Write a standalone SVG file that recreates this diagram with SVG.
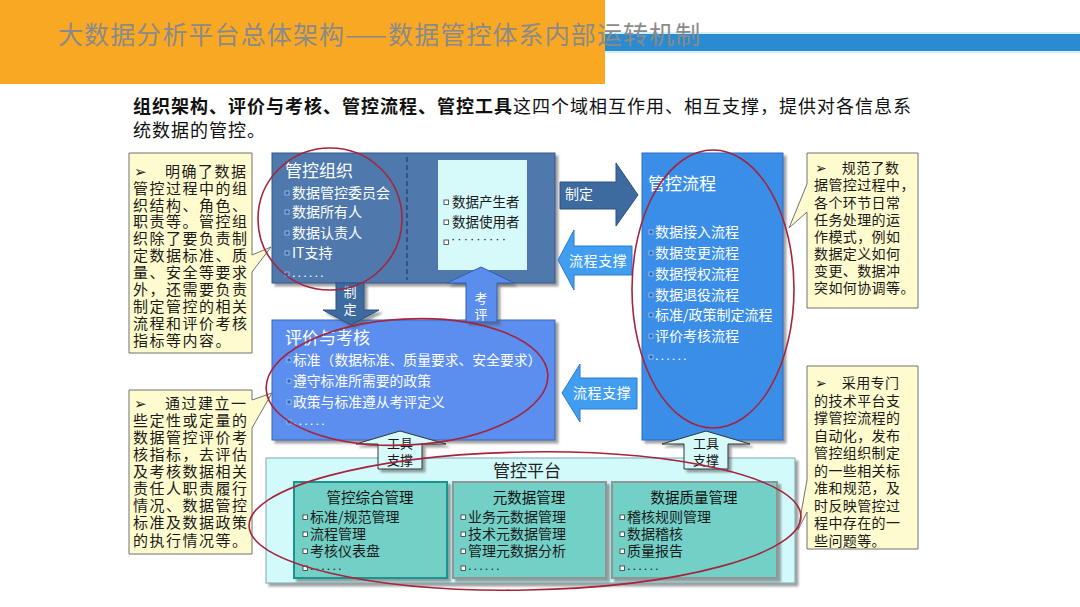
<svg xmlns="http://www.w3.org/2000/svg" width="1080" height="607" viewBox="0 0 1080 607">
<defs>
<style>
text{font-family:"Noto Sans CJK SC","Noto Sans",sans-serif;}
text.dots{font-family:"Liberation Sans",Arial,sans-serif;font-size:13px;letter-spacing:2px;}
.callout{fill:#FEFCCF;stroke:#707070;stroke-width:1;}
.cl{font-size:15px;fill:#1a1a1a;letter-spacing:1.5px;}
.cr{font-size:14px;fill:#1a1a1a;letter-spacing:0.4px;}
.wt{fill:#ffffff;}
.dk{fill:#1a1a1a;}
.h17{font-size:17px;}
.i14{font-size:14px;}
.ell{fill:none;stroke:#A4253D;stroke-width:1.6;}
.bw{fill:#2F62B0;stroke:#A8C8F0;stroke-width:0.8;}
.bd{fill:#ffffff;stroke:#333;stroke-width:0.8;}
.sub{fill:#73D0C7;stroke-width:2;}
.tool{fill:#D6F9FA;stroke:#333;stroke-width:1;}
.dkarrow{fill:#3D6B9F;stroke:#2C5282;stroke-width:1;}
.ltarrow{fill:#419DF0;stroke:#2A7AD0;stroke-width:1;}
</style>
<filter id="sh" x="-10%" y="-10%" width="130%" height="130%">
<feDropShadow dx="3" dy="3" stdDeviation="1" flood-color="#555" flood-opacity="0.55"/>
</filter>
</defs>
<rect width="1080" height="607" fill="#ffffff"/>

<g id="header">
<rect x="0" y="0" width="605" height="84" fill="#F9A823"/>
<rect x="605" y="32" width="475" height="21" fill="#D3F0FB"/>
<rect x="605" y="34" width="475" height="17" fill="#2B8BD0"/>
<text x="58" y="44" font-size="25" fill="#8a8a8a" letter-spacing="1.1">大数据分析平台总体架构——数据管控体系内部运转机制</text>
</g>

<g id="intro">
<text x="133" y="113" font-size="18" fill="#111" letter-spacing="1"><tspan font-weight="bold">组织架构、评价与考核、管控流程、管控工具</tspan>这四个域相互作用、相互支撑，提供对各信息系</text>
<text x="133" y="137" font-size="18" fill="#111" letter-spacing="1">统数据的管控。</text>
</g>

<g id="org">
<rect x="272" y="153" width="283" height="130" fill="#4F79AC" stroke="#34598A" stroke-width="1" filter="url(#sh)"/>
<line x1="407" y1="157" x2="407" y2="280" stroke="#1E3D66" stroke-width="1.2" stroke-dasharray="5 3"/>
<rect x="438" y="160" width="89" height="110" fill="#D6F9FA"/>
<text x="285" y="176.5" class="wt h17">管控组织</text>
<rect class="bw" x="285" y="191" width="4" height="4"/>
<rect class="bw" x="285" y="210" width="4" height="4"/>
<rect class="bw" x="285" y="231" width="4" height="4"/>
<rect class="bw" x="285" y="251" width="4" height="4"/>
<rect class="bw" x="285" y="272" width="4" height="4"/>
<text class="wt i14" x="292" y="198.3">数据管控委员会</text>
<text class="wt i14" x="292" y="217.3">数据所有人</text>
<text class="wt i14" x="292" y="238.3">数据认责人</text>
<text class="wt i14" x="292" y="258.3">IT支持</text>
<text class="wt dots" x="292" y="277">......</text>
<rect class="bd" x="444" y="200" width="4.5" height="4.5"/>
<rect class="bd" x="444" y="220" width="4.5" height="4.5"/>
<rect class="bd" x="444" y="240" width="4.5" height="4.5"/>
<text class="dk" font-size="13.5" x="452" y="207">数据产生者</text>
<text class="dk" font-size="13.5" x="452" y="227">数据使用者</text>
<text class="dk dots" x="451" y="243" letter-spacing="1">·········</text>
</g>

<g id="eval">
<rect x="272" y="320" width="283" height="120" fill="#5C8EEF" stroke="#3D64B8" stroke-width="1" filter="url(#sh)"/>
<text x="285" y="343.5" class="wt h17">评价与考核</text>
<rect class="bw" x="287" y="358" width="4" height="4"/>
<rect class="bw" x="287" y="379" width="4" height="4"/>
<rect class="bw" x="287" y="400" width="4" height="4"/>
<rect class="bw" x="287" y="420" width="4" height="4"/>
<text class="wt" font-size="13.8" x="293" y="365.3">标准（数据标准、质量要求、安全要求）</text>
<text class="wt" font-size="13.8" x="293" y="386.3">遵守标准所需要的政策</text>
<text class="wt" font-size="13.8" x="293" y="407.3">政策与标准遵从考评定义</text>
<text class="wt dots" x="293" y="425">......</text>
</g>

<g id="process">
<rect x="642" y="153" width="141" height="287" fill="#3B8EE8" stroke="#2A6FC0" stroke-width="1" filter="url(#sh)"/>
<text x="648" y="189.5" class="wt h17">管控流程</text>
<rect class="bw" x="649" y="230" width="4" height="4"/>
<rect class="bw" x="649" y="251" width="4" height="4"/>
<rect class="bw" x="649" y="272" width="4" height="4"/>
<rect class="bw" x="649" y="293" width="4" height="4"/>
<rect class="bw" x="649" y="313" width="4" height="4"/>
<rect class="bw" x="649" y="334" width="4" height="4"/>
<rect class="bw" x="649" y="355" width="4" height="4"/>
<text class="wt i14" x="655" y="237.3">数据接入流程</text>
<text class="wt i14" x="655" y="258.3">数据变更流程</text>
<text class="wt i14" x="655" y="279.3">数据授权流程</text>
<text class="wt i14" x="655" y="300.3">数据退役流程</text>
<text class="wt i14" x="655" y="320.3">标准/政策制定流程</text>
<text class="wt i14" x="655" y="341.3">评价考核流程</text>
<text class="wt dots" x="655" y="360">......</text>
</g>

<g id="platform">
<rect x="266" y="458" width="529" height="125" fill="#D2FAFB" stroke="#7FA8B0" stroke-width="1" filter="url(#sh)"/>
<text x="527" y="476.5" font-size="17" fill="#222" text-anchor="middle">管控平台</text>
<g id="comp">
<rect class="sub" x="294" y="482" width="153" height="96" stroke="#1F948E" filter="url(#sh)"/>
<text x="370" y="502.5" font-size="14.5" fill="#111" text-anchor="middle">管控综合管理</text>
<rect class="bd" x="303" y="515" width="4.5" height="4.5"/>
<rect class="bd" x="303" y="532" width="4.5" height="4.5"/>
<rect class="bd" x="303" y="549" width="4.5" height="4.5"/>
<rect class="bd" x="303" y="566" width="4.5" height="4.5"/>
<text class="dk i14" x="310" y="522.3">标准/规范管理</text>
<text class="dk i14" x="310" y="539.3">流程管理</text>
<text class="dk i14" x="310" y="556.3">考核仪表盘</text>
<text class="dk dots" x="310" y="570">......</text>
</g>
<g id="meta">
<rect class="sub" x="453" y="482" width="153" height="96" stroke="#8C9898" filter="url(#sh)"/>
<text x="529" y="502.5" font-size="14.5" fill="#111" text-anchor="middle">元数据管理</text>
<rect class="bd" x="461" y="515" width="4.5" height="4.5"/>
<rect class="bd" x="461" y="532" width="4.5" height="4.5"/>
<rect class="bd" x="461" y="549" width="4.5" height="4.5"/>
<rect class="bd" x="461" y="566" width="4.5" height="4.5"/>
<text class="dk i14" x="468" y="522.3">业务元数据管理</text>
<text class="dk i14" x="468" y="539.3">技术元数据管理</text>
<text class="dk i14" x="468" y="556.3">管理元数据分析</text>
<text class="dk dots" x="468" y="570">......</text>
</g>
<g id="quality">
<rect class="sub" x="612" y="482" width="165" height="96" stroke="#8C9898" filter="url(#sh)"/>
<text x="694" y="502.5" font-size="14.5" fill="#111" text-anchor="middle">数据质量管理</text>
<rect class="bd" x="620" y="515" width="4.5" height="4.5"/>
<rect class="bd" x="620" y="532" width="4.5" height="4.5"/>
<rect class="bd" x="620" y="549" width="4.5" height="4.5"/>
<rect class="bd" x="620" y="566" width="4.5" height="4.5"/>
<text class="dk i14" x="627" y="522.3">稽核规则管理</text>
<text class="dk i14" x="627" y="539.3">数据稽核</text>
<text class="dk i14" x="627" y="556.3">质量报告</text>
<text class="dk dots" x="627" y="570">......</text>
</g>
</g>

<g id="connectors">
<path class="dkarrow" d="M560,182 H616 V163 L638,195 L616,226 V209 H560 Z"/>
<text x="565" y="199" class="wt i14">制定</text>
<path class="ltarrow" d="M632,246 H574 V230 L558,260 L574,290 V275 H632 Z"/>
<text x="569" y="265.5" class="wt i14" letter-spacing="0.6">流程支撑</text>
<path class="ltarrow" d="M637,378 H580 V364 L562,393 L580,422 V409 H637 Z"/>
<text x="573" y="398.3" class="wt i14" letter-spacing="0.6">流程支撑</text>
<path class="dkarrow" filter="url(#sh)" d="M336,283 H364 V310 H379 L351,325 L323,310 H336 Z"/>
<text x="350" y="297" class="wt" font-size="13" text-anchor="middle">制</text>
<text x="350" y="314" class="wt" font-size="13" text-anchor="middle">定</text>
<path fill="#5A8DEC" stroke="#2F5FB8" stroke-width="1" filter="url(#sh)" d="M466,322 V283 H447 L481,267 L514,283 H497 V322 Z"/>
<text x="481" y="303" class="wt" font-size="13" text-anchor="middle">考</text>
<text x="481" y="319" class="wt" font-size="13" text-anchor="middle">评</text>
<path class="tool" filter="url(#sh)" d="M378,469 V444 H356 L400,431 L446,444 H422 V469 Z"/>
<text x="400" y="448" class="dk" font-size="13" text-anchor="middle">工具</text>
<text x="400" y="465" class="dk" font-size="13" text-anchor="middle">支撑</text>
<path class="tool" filter="url(#sh)" d="M684,469 V444 H662 L706,431 L750,444 H728 V469 Z"/>
<text x="706" y="448" class="dk" font-size="13" text-anchor="middle">工具</text>
<text x="706" y="465" class="dk" font-size="13" text-anchor="middle">支撑</text>
</g>

<g id="note-org">
<path class="callout" d="M129,153 H252 V255 L271,247 L252,272 V353 H129 Z"/>
<text class="cl" x="134" y="176.7">➢　明确了数据<tspan x="133" dy="16.9">管控过程中的组</tspan><tspan x="133" dy="16.9">织结构、角色、</tspan><tspan x="133" dy="16.9">职责等。管控组</tspan><tspan x="133" dy="16.9">织除了要负责制</tspan><tspan x="133" dy="16.9">定数据标准、质</tspan><tspan x="133" dy="16.9">量、安全等要求</tspan><tspan x="133" dy="16.9">外，还需要负责</tspan><tspan x="133" dy="16.9">制定管控的相关</tspan><tspan x="133" dy="16.9">流程和评价考核</tspan><tspan x="133" dy="16.9">指标等内容。</tspan></text>
</g>

<g id="note-eval">
<path class="callout" d="M129,390 H252 V400 L272,393 L252,428 V554 H129 Z"/>
<text class="cl" x="134" y="408.7">➢　通过建立一<tspan x="133" dy="17.1">些定性或定量的</tspan><tspan x="133" dy="17.1">数据管控评价考</tspan><tspan x="133" dy="17.1">核指标，去评估</tspan><tspan x="133" dy="17.1">及考核数据相关</tspan><tspan x="133" dy="17.1">责任人职责履行</tspan><tspan x="133" dy="17.1">情况、数据管控</tspan><tspan x="133" dy="17.1">标准及数据政策</tspan><tspan x="133" dy="17.1">的执行情况等。</tspan></text>
</g>

<g id="note-process">
<path class="callout" d="M807,153 H918 V308 H807 V212 L789,228 L807,184 Z"/>
<text class="cr" x="815" y="173.3">➢　规范了数<tspan x="814" dy="17.1">据管控过程中，</tspan><tspan x="814" dy="17.1">各个环节日常</tspan><tspan x="814" dy="17.1">任务处理的运</tspan><tspan x="814" dy="17.1">作模式，例如</tspan><tspan x="814" dy="17.1">数据定义如何</tspan><tspan x="814" dy="17.1">变更、数据冲</tspan><tspan x="814" dy="17.1">突如何协调等。</tspan></text>
</g>

<g id="note-platform">
<path class="callout" d="M807,366 H918 V549 H807 V512 L798,530 L807,480 Z"/>
<text class="cr" x="815" y="388.3">➢　采用专门<tspan x="814" dy="17.5">的技术平台支</tspan><tspan x="814" dy="17.5">撑管控流程的</tspan><tspan x="814" dy="17.5">自动化，发布</tspan><tspan x="814" dy="17.5">管控组织制定</tspan><tspan x="814" dy="17.5">的一些相关标</tspan><tspan x="814" dy="17.5">准和规范，及</tspan><tspan x="814" dy="17.5">时反映管控过</tspan><tspan x="814" dy="17.5">程中存在的一</tspan><tspan x="814" dy="17.5">些问题等。</tspan></text>
</g>

<g id="highlights">
<ellipse class="ell" cx="330" cy="219" rx="72" ry="71"/>
<ellipse class="ell" cx="407" cy="382" rx="141" ry="63" transform="rotate(-3 407 382)"/>
<ellipse class="ell" cx="713" cy="289" rx="81" ry="139"/>
<ellipse class="ell" cx="525" cy="521" rx="276" ry="69" transform="rotate(-1 525 521)"/>
</g>
</svg>
